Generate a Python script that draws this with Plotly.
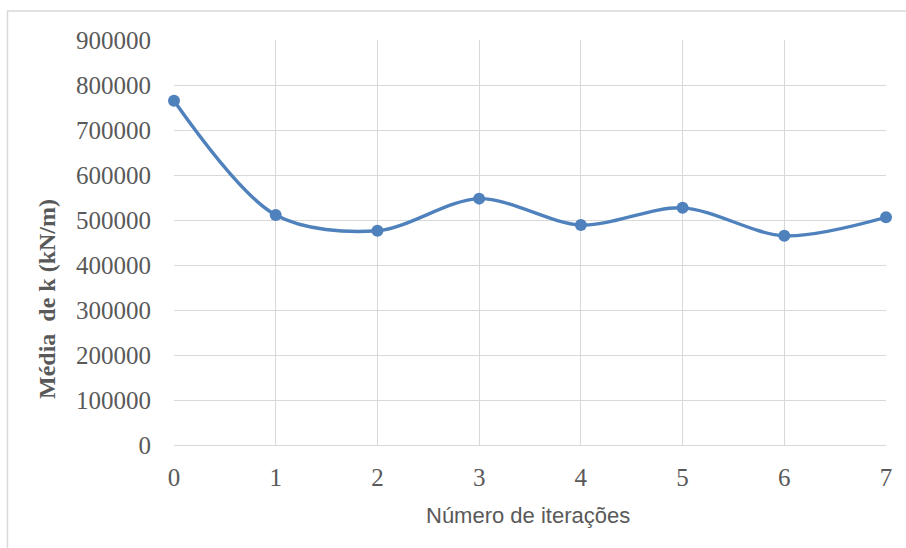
import plotly.graph_objects as go

# Average subgrade stiffness per iteration
iteracoes = [0, 1, 2, 3, 4, 5, 6, 7]
media_k = [765000, 511000, 476000, 547500, 489000, 527000, 465000, 506000]
y_ticks = [0, 100000, 200000, 300000, 400000, 500000, 600000, 700000, 800000, 900000]

W, H = 906, 548
L, R, T, B = 174, 20, 40, 103
pw, ph = W - L - R, H - T - B

fig = go.Figure()
fig.add_trace(go.Scatter(
    x=iteracoes, y=media_k,
    mode="lines+markers",
    line=dict(color="#4f81bd", width=3.4, shape="spline", smoothing=0.9),
    marker=dict(color="#4f81bd", size=12),
    cliponaxis=False,
    showlegend=False,
))

# outer chart frame
fig.add_shape(type="rect", xref="paper", yref="paper",
              x0=(7.5 - L) / pw, x1=(W + 20 - L) / pw,
              y0=-(H + 20 - T - ph) / ph, y1=(H - B - 11) / ph,
              line=dict(color="#d9d9d9", width=1.5), layer="below")

# axis titles
fig.add_annotation(text="<b>Média  de k (kN/m)</b>", xref="paper", yref="paper",
                   x=(47 - L) / pw, y=(H - B - 299) / ph, textangle=-90,
                   showarrow=False, xanchor="center", yanchor="middle",
                   font=dict(family="Liberation Serif", size=24, color="#595959"))
fig.add_annotation(text="Número de iterações", xref="paper", yref="paper",
                   x=(528 - L) / pw, y=(H - B - 515) / ph,
                   showarrow=False, xanchor="center", yanchor="middle",
                   font=dict(family="Liberation Sans Narrow, Liberation Sans", size=22, color="#595959"))

fig.update_layout(
    width=W, height=H,
    margin=dict(l=L, r=R, t=T, b=B),
    paper_bgcolor="white", plot_bgcolor="white",
    xaxis=dict(
        range=[0, 7], tickmode="array", tickvals=iteracoes,
        showgrid=True, gridcolor="#d9d9d9", gridwidth=1,
        showline=True, linecolor="#d9d9d9", mirror=False,
        zeroline=False, ticks="", ticklabelstandoff=10,
        tickfont=dict(family="Liberation Serif", size=25, color="#595959"),
    ),
    yaxis=dict(
        range=[0, 900000], tickmode="array", tickvals=y_ticks,
        ticktext=[str(v) for v in y_ticks],
        showgrid=True, gridcolor="#d9d9d9", gridwidth=1,
        showline=False, zeroline=False, ticks="", ticklabelstandoff=22,
        tickfont=dict(family="Liberation Serif", size=25, color="#595959"),
    ),
)

fig.write_html("out.html")
